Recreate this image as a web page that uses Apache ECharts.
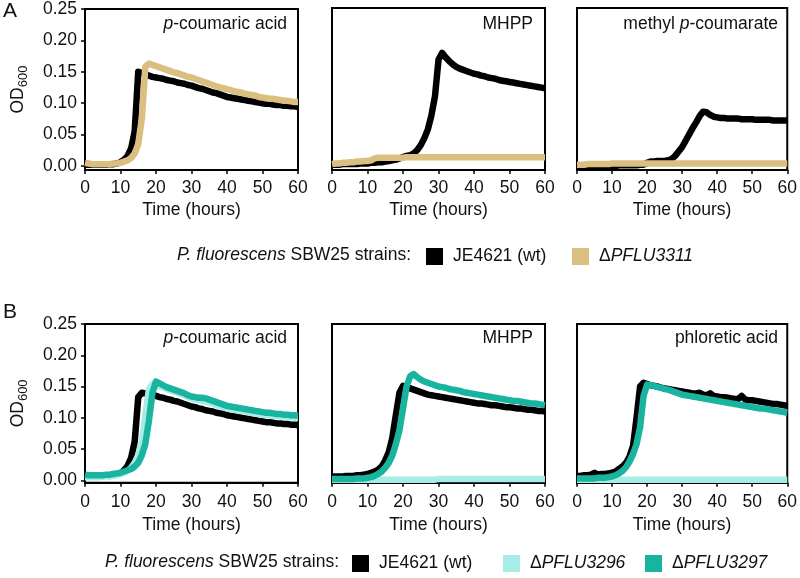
<!DOCTYPE html>
<html><head><meta charset="utf-8">
<script src="https://cdn.jsdelivr.net/npm/echarts@6/dist/echarts.min.js"></script>
<style>html,body{margin:0;padding:0;background:#fff}#c{width:800px;height:578px}</style>
</head><body><div id="c"></div>
<script>
// ---- data ----
const hours = [0,1,2,3,4,5,6,7,8,9,10,11,12,13,14,15,16,17,18,19,20,21,22,23,24,25,26,27,28,29,30,
  31,32,33,34,35,36,37,38,39,40,41,42,43,44,45,46,47,48,49,50,51,52,53,54,55,56,57,58,59,60];
const xTickLabels = ['0','10','20','30','40','50','60'];
const yTickValues = [0, 0.05, 0.10, 0.15, 0.20, 0.25];
const strainNames = ['JE4621 (wt)', 'ΔPFLU3311', 'ΔPFLU3296', 'ΔPFLU3297'];
const panelTitlesA = ['{i|p}-coumaric acid', 'MHPP', 'methyl {i|p}-coumarate'];
const panelTitlesB = ['{i|p}-coumaric acid', 'MHPP', 'phloretic acid'];

// Panel A, p-coumaric acid
const a1Wt = [0.002,0.002,0.002,0.002,0.002,0.002,0.002,0.003,0.003,0.004,
  0.006,0.010,0.016,0.028,0.055,0.150,0.148,0.146,0.144,0.142,
  0.141,0.140,0.139,0.137,0.136,0.135,0.133,0.132,0.131,0.129,
  0.128,0.126,0.124,0.123,0.121,0.119,0.117,0.116,0.114,0.112,
  0.110,0.109,0.108,0.107,0.106,0.105,0.104,0.103,0.102,0.101,
  0.100,0.099,0.099,0.098,0.097,0.097,0.096,0.096,0.095,0.095,0.094];
const a1D3311 = [0.005,0.004,0.003,0.003,0.003,0.003,0.003,0.003,0.004,0.004,
  0.005,0.007,0.009,0.013,0.020,0.035,0.075,0.158,0.163,0.161,
  0.159,0.157,0.155,0.153,0.151,0.149,0.148,0.146,0.144,0.142,
  0.141,0.139,0.137,0.135,0.133,0.131,0.129,0.127,0.125,0.124,
  0.122,0.121,0.119,0.118,0.117,0.115,0.114,0.113,0.112,0.110,
  0.109,0.108,0.107,0.107,0.106,0.105,0.104,0.104,0.103,0.102,0.102];
// Panel A, MHPP
const a2Wt = [0.002,0.002,0.002,0.003,0.003,0.003,0.003,0.003,0.004,0.004,
  0.004,0.005,0.005,0.006,0.006,0.007,0.008,0.009,0.010,0.012,
  0.014,0.016,0.017,0.020,0.025,0.033,0.044,0.058,0.080,0.110,
  0.168,0.179,0.172,0.166,0.161,0.157,0.154,0.152,0.150,0.148,
  0.146,0.145,0.143,0.142,0.140,0.139,0.138,0.136,0.135,0.134,
  0.133,0.132,0.131,0.130,0.129,0.128,0.127,0.126,0.125,0.124,0.123];
const a2D3311 = [0.003,0.004,0.004,0.005,0.005,0.006,0.006,0.007,0.007,0.008,
  0.008,0.009,0.012,0.013,0.013,0.013,0.013,0.013,0.013,0.013,
  0.013,0.014,0.014,0.014,0.014,0.014,0.014,0.014,0.014,0.014,
  0.014,0.014,0.014,0.014,0.014,0.014,0.014,0.014,0.014,0.014,
  0.014,0.014,0.014,0.014,0.014,0.014,0.014,0.014,0.014,0.014,
  0.014,0.014,0.014,0.014,0.014,0.014,0.014,0.014,0.014,0.014,0.014];
// Panel A, methyl p-coumarate
const a3Wt = [0.000,0.000,0.000,0.000,0.000,0.000,0.000,0.000,0.000,0.000,
  0.000,0.000,0.001,0.001,0.001,0.001,0.001,0.001,0.002,0.002,
  0.005,0.007,0.007,0.008,0.008,0.008,0.009,0.011,0.016,0.023,
  0.030,0.040,0.050,0.060,0.069,0.079,0.086,0.085,0.081,0.078,
  0.077,0.076,0.076,0.075,0.075,0.075,0.075,0.074,0.074,0.074,
  0.074,0.073,0.073,0.073,0.073,0.073,0.072,0.072,0.072,0.072,0.072];
const a3D3311 = [0.002,0.002,0.002,0.003,0.003,0.003,0.003,0.003,0.003,0.003,
  0.004,0.004,0.004,0.004,0.004,0.004,0.004,0.004,0.004,0.004,
  0.004,0.004,0.004,0.004,0.004,0.004,0.004,0.004,0.004,0.004,
  0.004,0.004,0.004,0.004,0.004,0.004,0.004,0.004,0.004,0.004,
  0.004,0.004,0.004,0.004,0.004,0.004,0.004,0.004,0.004,0.004,
  0.004,0.004,0.004,0.004,0.004,0.004,0.004,0.004,0.004,0.004,0.004];
// Panel B, p-coumaric acid
const b1Wt = [0.008,0.008,0.008,0.008,0.008,0.008,0.008,0.008,0.009,0.010,
  0.011,0.016,0.023,0.036,0.062,0.133,0.140,0.139,0.138,0.137,
  0.135,0.133,0.132,0.130,0.129,0.127,0.126,0.124,0.122,0.120,
  0.118,0.117,0.115,0.114,0.112,0.111,0.110,0.108,0.107,0.106,
  0.104,0.103,0.102,0.101,0.100,0.099,0.098,0.097,0.096,0.095,
  0.094,0.093,0.093,0.092,0.091,0.091,0.090,0.090,0.089,0.089,0.088];
const b1D3296 = [0.005,0.005,0.005,0.005,0.005,0.006,0.006,0.006,0.007,0.008,
  0.010,0.012,0.015,0.020,0.028,0.040,0.060,0.105,0.145,0.154,
  0.152,0.150,0.148,0.146,0.144,0.142,0.140,0.138,0.136,0.133,
  0.131,0.129,0.128,0.127,0.126,0.124,0.122,0.120,0.118,0.117,
  0.115,0.114,0.113,0.112,0.111,0.110,0.109,0.108,0.107,0.106,
  0.105,0.105,0.104,0.103,0.103,0.102,0.102,0.101,0.101,0.100,0.100];
const b1D3297 = [0.009,0.008,0.008,0.008,0.008,0.008,0.009,0.009,0.010,0.011,
  0.012,0.014,0.016,0.018,0.022,0.028,0.040,0.058,0.095,0.140,
  0.158,0.155,0.152,0.149,0.147,0.145,0.143,0.141,0.139,0.136,
  0.134,0.133,0.132,0.132,0.131,0.129,0.127,0.125,0.123,0.121,
  0.119,0.118,0.117,0.116,0.115,0.114,0.113,0.112,0.111,0.110,
  0.109,0.108,0.108,0.107,0.106,0.106,0.105,0.105,0.104,0.104,0.103];
// Panel B, MHPP
const b2Wt = [0.006,0.006,0.006,0.006,0.007,0.007,0.007,0.008,0.008,0.009,
  0.010,0.012,0.014,0.017,0.022,0.032,0.045,0.068,0.105,0.140,
  0.151,0.150,0.147,0.145,0.143,0.141,0.139,0.137,0.136,0.135,
  0.134,0.133,0.132,0.131,0.130,0.129,0.128,0.127,0.126,0.125,
  0.124,0.123,0.123,0.122,0.121,0.120,0.120,0.119,0.118,0.117,
  0.117,0.116,0.115,0.115,0.114,0.113,0.113,0.112,0.111,0.111,0.110];
const b2D3296 = [0.001,0.001,0.001,0.001,0.001,0.001,0.001,0.001,0.001,0.001,
  0.001,0.001,0.001,0.001,0.001,0.001,0.001,0.001,0.001,0.001,
  0.001,0.001,0.001,0.001,0.001,0.001,0.001,0.001,0.001,0.001,
  0.002,0.002,0.002,0.002,0.002,0.002,0.002,0.002,0.002,0.002,
  0.002,0.002,0.002,0.002,0.002,0.002,0.002,0.002,0.002,0.002,
  0.002,0.002,0.002,0.002,0.002,0.002,0.002,0.002,0.002,0.002,0.002];
const b2D3297 = [0.002,0.002,0.002,0.002,0.002,0.002,0.002,0.003,0.003,0.003,
  0.004,0.005,0.007,0.010,0.014,0.020,0.028,0.040,0.058,0.080,
  0.115,0.150,0.166,0.170,0.165,0.161,0.158,0.156,0.154,0.152,
  0.150,0.149,0.148,0.146,0.145,0.144,0.143,0.141,0.140,0.139,
  0.138,0.137,0.136,0.135,0.134,0.133,0.132,0.131,0.130,0.129,
  0.128,0.127,0.127,0.126,0.125,0.124,0.123,0.123,0.122,0.121,0.120];
// Panel B, phloretic acid
const b3Wt = [0.007,0.007,0.008,0.008,0.009,0.012,0.009,0.010,0.010,0.011,
  0.012,0.014,0.018,0.022,0.028,0.038,0.055,0.100,0.150,0.156,
  0.154,0.152,0.151,0.150,0.148,0.147,0.146,0.145,0.144,0.143,
  0.142,0.141,0.140,0.139,0.139,0.140,0.137,0.136,0.139,0.135,
  0.134,0.133,0.133,0.132,0.131,0.130,0.130,0.135,0.129,0.128,
  0.128,0.127,0.126,0.125,0.124,0.123,0.122,0.122,0.121,0.120,0.119];
const b3D3296 = [0.001,0.001,0.001,0.001,0.001,0.001,0.001,0.001,0.001,0.001,
  0.001,0.001,0.001,0.001,0.001,0.001,0.001,0.001,0.001,0.001,
  0.001,0.001,0.001,0.001,0.001,0.001,0.001,0.001,0.001,0.001,
  0.001,0.001,0.001,0.001,0.001,0.001,0.001,0.001,0.001,0.001,
  0.001,0.001,0.001,0.001,0.001,0.001,0.001,0.001,0.001,0.001,
  0.001,0.001,0.001,0.001,0.001,0.001,0.001,0.001,0.001,0.001,0.001];
const b3D3297 = [0.003,0.003,0.003,0.003,0.003,0.003,0.004,0.004,0.004,0.005,
  0.006,0.008,0.011,0.015,0.021,0.030,0.042,0.058,0.085,0.135,
  0.153,0.152,0.151,0.149,0.148,0.146,0.145,0.143,0.141,0.139,
  0.137,0.136,0.135,0.134,0.133,0.132,0.131,0.130,0.129,0.128,
  0.127,0.126,0.125,0.124,0.123,0.122,0.121,0.120,0.119,0.118,
  0.117,0.116,0.115,0.115,0.114,0.113,0.112,0.111,0.110,0.109,0.108];

// ---- styling ----
const FONT = '"Liberation Sans", Arial, Helvetica, sans-serif';
const FS = 17.5;
const TXT = '#111';
const strainColors = {'JE4621 (wt)':'#000000','ΔPFLU3311':'#dbbf81','ΔPFLU3296':'#a7ece5','ΔPFLU3297':'#18b4a0'};

const cols = [{left:85,width:213,titleRight:513},{left:332,width:213,titleRight:267},{left:577,width:212,titleRight:22}];
const rows = [
  {top:8, height:162.1, min:-0.0065, nameGap:31, labelMargin:9, titleTop:15, titles:panelTitlesA,
   panels:[[['JE4621 (wt)',a1Wt],['ΔPFLU3311',a1D3311]],
           [['JE4621 (wt)',a2Wt],['ΔPFLU3311',a2D3311]],
           [['JE4621 (wt)',a3Wt],['ΔPFLU3311',a3D3311]]]},
  {top:324, height:158.75, min:-0.004, nameGap:33, labelMargin:10, titleTop:329, titles:panelTitlesB,
   panels:[[['JE4621 (wt)',b1Wt],['ΔPFLU3296',b1D3296],['ΔPFLU3297',b1D3297]],
           [['JE4621 (wt)',b2Wt],['ΔPFLU3296',b2D3296],['ΔPFLU3297',b2D3297]],
           [['JE4621 (wt)',b3Wt],['ΔPFLU3296',b3D3296],['ΔPFLU3297',b3D3297]]]}
];

const grid=[], xAxis=[], yAxis=[], series=[], title=[];
const richBase = {
  n:{fontFamily:FONT,fontSize:FS,color:TXT},
  i:{fontFamily:FONT,fontSize:FS,color:TXT,fontStyle:'italic'}
};
let gi = 0;
rows.forEach((r, ri) => {
  cols.forEach((c, ci) => {
    grid.push({left:c.left, top:r.top, width:c.width, height:r.height, show:true,
      borderColor:'#000', borderWidth:2, backgroundColor:'transparent'});
    xAxis.push({type:'value', gridIndex:gi, min:0, max:60, interval:10,
      name:'Time (hours)', nameLocation:'middle', nameGap:r.nameGap,
      nameTextStyle:{fontFamily:FONT,fontSize:FS,color:TXT},
      axisLine:{show:true,onZero:false,lineStyle:{color:'#000',width:2}},
      axisTick:{show:true,length:4,lineStyle:{color:'#000',width:1.5}},
      axisLabel:{fontFamily:FONT,fontSize:FS,color:TXT,margin:r.labelMargin,
        formatter:(v)=>xTickLabels[Math.round(v/10)]},
      splitLine:{show:false}});
    const first = ci === 0;
    yAxis.push({type:'value', gridIndex:gi, min:r.min, max:0.25,
      name: first ? '{a|OD}{b|600}' : '', nameLocation:'middle', nameGap:56,
      nameTextStyle:{rich:{
        a:{fontFamily:FONT,fontSize:FS,color:TXT,lineHeight:20,verticalAlign:'top'},
        b:{fontFamily:FONT,fontSize:13,color:TXT,lineHeight:14,padding:[8,0,0,0],verticalAlign:'top'}}},
      axisLine:{show:true,onZero:false,lineStyle:{color:'#000',width:2}},
      axisTick:{show:first,length:4,customValues:yTickValues,lineStyle:{color:'#000',width:1.5}},
      axisLabel:{show:first,customValues:yTickValues,fontFamily:FONT,fontSize:FS,color:TXT,margin:8,
        formatter:(v)=>v.toFixed(2)},
      splitLine:{show:false}});
    r.panels[ci].forEach(([name, vals]) => {
      const col = strainColors[name];
      series.push({type:'line', name, xAxisIndex:gi, yAxisIndex:gi,
        data: hours.map((t,k)=>[t, vals[k]]),
        showSymbol:false, symbol:'none', smooth:false, animation:false, clip:true,
        lineStyle:{color:col,width:6.5,cap:'butt',join:'round'},
        itemStyle:{color:col}, emphasis:{disabled:true}});
    });
    title.push({text:r.titles[ci], right:c.titleRight, top:r.titleTop, padding:0,
      textStyle:{fontFamily:FONT,fontSize:FS,color:TXT,fontWeight:'normal',rich:richBase}});
    gi++;
  });
});
// panel letters
title.push({text:'A', left:3, top:1, padding:0, textStyle:{fontFamily:FONT,fontSize:21,fontWeight:'normal',color:TXT}});
title.push({text:'B', left:3, top:302, padding:0, textStyle:{fontFamily:FONT,fontSize:21,fontWeight:'normal',color:TXT}});
// legend prefixes
title.push({text:'{i|P. fluorescens} SBW25 strains:', left:177, top:246, padding:0,
  textStyle:{fontFamily:FONT,fontSize:FS,color:TXT,fontWeight:'normal',rich:richBase}});
title.push({text:'{i|P. fluorescens} SBW25 strains:', left:105, top:553, padding:0,
  textStyle:{fontFamily:FONT,fontSize:FS,color:TXT,fontWeight:'normal',rich:richBase}});

const legendFmt = (name) => name.charAt(0) === 'Δ' ? '{n|Δ}{i|' + name.slice(1) + '}' : '{n|' + name + '}';
const mkLegend = (name, left, top) => ({data:[name], left, top, padding:0, icon:'rect',
  itemWidth:17, itemHeight:17, selectedMode:false, formatter:legendFmt,
  itemStyle:{borderWidth:0},
  textStyle:{fontFamily:FONT,fontSize:FS,color:TXT,padding:[0,0,0,5],rich:richBase}});
const legend = [
  mkLegend(strainNames[0], 426, 247.5),
  mkLegend(strainNames[1], 572, 247.5),
  mkLegend(strainNames[0], 352, 554.5),
  mkLegend(strainNames[2], 503, 554.5),
  mkLegend(strainNames[3], 645, 554.5)
];

const chart = echarts.init(document.getElementById('c'), null, {renderer:'canvas'});
chart.setOption({animation:false, backgroundColor:'#fff', grid, xAxis, yAxis, series, title, legend});
</script></body></html>
